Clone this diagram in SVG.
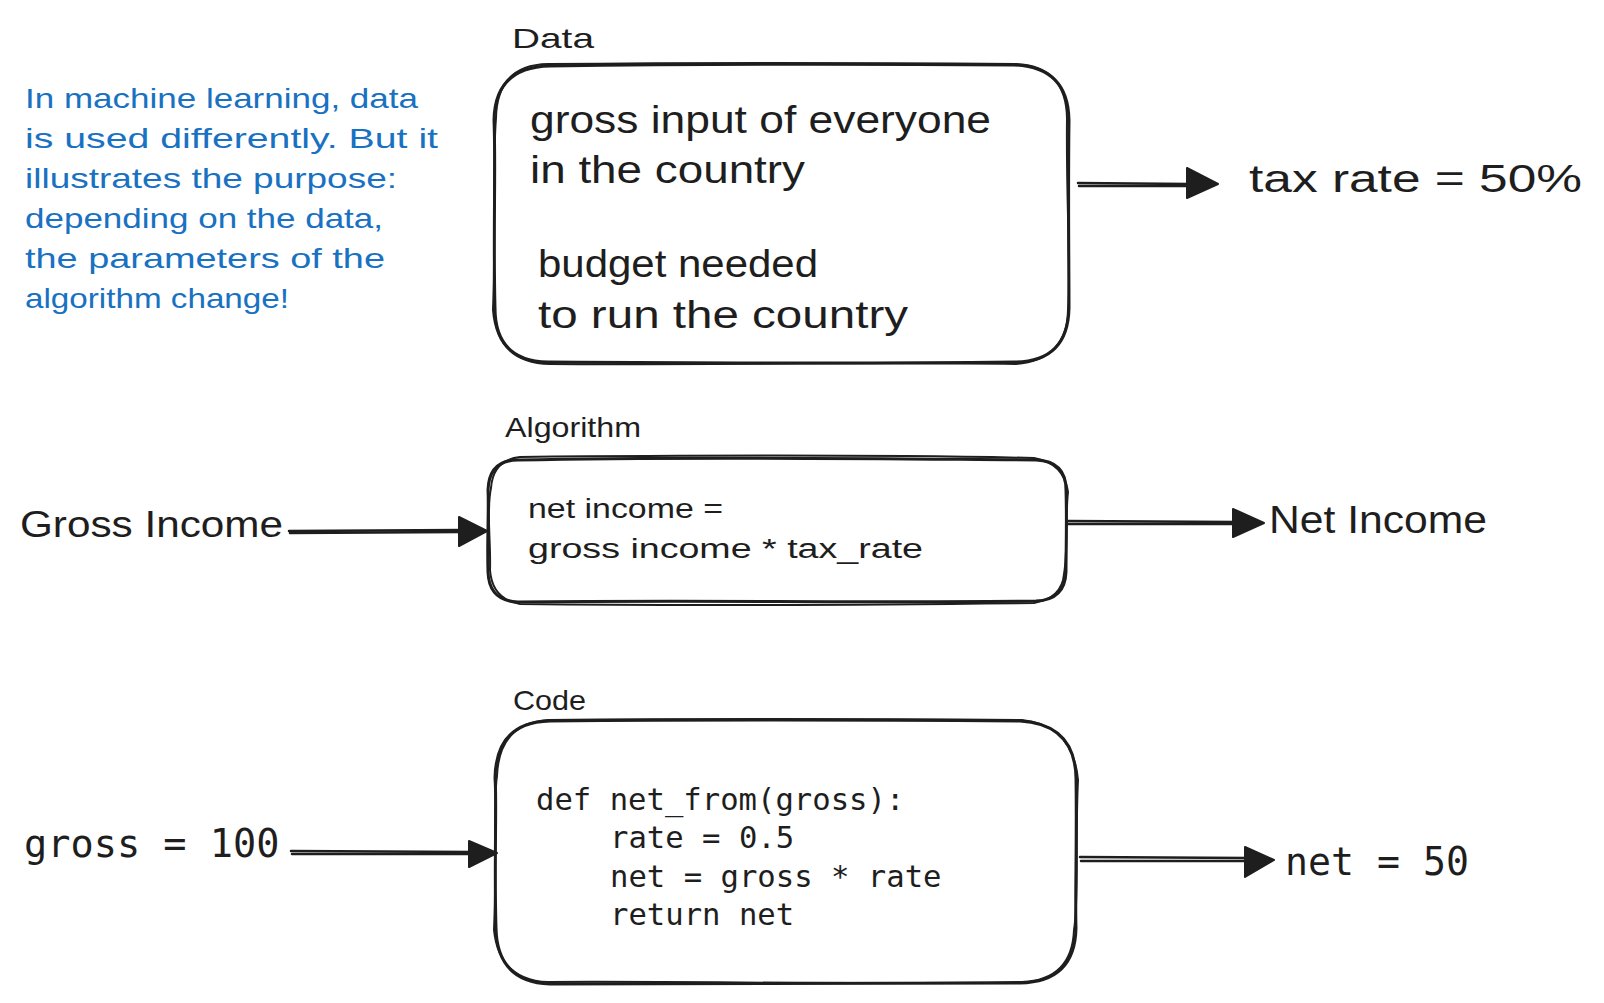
<svg xmlns="http://www.w3.org/2000/svg" width="1604" height="1003" viewBox="0 0 1604 1003">
<style>
.box{fill:none;stroke:#1e1e1e;stroke-width:3;stroke-linecap:round;stroke-linejoin:round}
.box2{fill:none;stroke:#1e1e1e;stroke-width:2;stroke-linecap:round;stroke-linejoin:round}
.hand{font-family:"Liberation Sans","Noto Sans",sans-serif;fill:#1e1e1e}
.note{font-family:"Liberation Sans","Noto Sans",sans-serif;fill:#1971c2;font-size:28px}
.mono{font-family:"DejaVu Sans Mono","Liberation Mono",monospace;fill:#1e1e1e}
.line{fill:none;stroke:#1e1e1e;stroke-width:2.5;stroke-linecap:round}
.head{fill:#1e1e1e;stroke:#1e1e1e;stroke-width:2;stroke-linejoin:round}
</style>
<rect width="1604" height="1003" fill="#ffffff"/>

<g id="note">
<text class="note" x="25" y="108" textLength="393" lengthAdjust="spacingAndGlyphs">In machine learning, data</text>
<text class="note" x="25" y="148" textLength="413" lengthAdjust="spacingAndGlyphs">is used differently. But it</text>
<text class="note" x="25" y="188" textLength="372" lengthAdjust="spacingAndGlyphs">illustrates the purpose:</text>
<text class="note" x="25" y="228" textLength="358" lengthAdjust="spacingAndGlyphs">depending on the data,</text>
<text class="note" x="25" y="268" textLength="360" lengthAdjust="spacingAndGlyphs">the parameters of the</text>
<text class="note" x="25" y="308" textLength="264" lengthAdjust="spacingAndGlyphs">algorithm change!</text>
</g>

<g id="node-data">
<text class="hand" x="512" y="48" font-size="28" textLength="82" lengthAdjust="spacingAndGlyphs">Data</text>
<path class="box" d="M550,66 C760,63 900,64 1014,65 Q1068,67 1069,120 C1068,200 1069,260 1069,308 Q1068,362 1014,362 C850,364 700,363 548,362 Q495,361 495,308 C493,230 496,170 494,120 Q495,67 550,66 Z"/>
<path class="box2" d="M548,64 C740,62 900,63 1016,64 Q1066,66 1067,118 C1066,200 1071,262 1068,310 Q1067,360 1016,364 C860,362 700,365 550,364 Q497,363 493,310 C496,230 492,170 496,118 Q497,65 548,64 Z"/>
<text class="hand" x="530" y="133" font-size="38" textLength="461" lengthAdjust="spacingAndGlyphs">gross input of everyone</text>
<text class="hand" x="530" y="183" font-size="38" textLength="275" lengthAdjust="spacingAndGlyphs">in the country</text>
<text class="hand" x="538" y="277" font-size="38" textLength="280" lengthAdjust="spacingAndGlyphs">budget needed</text>
<text class="hand" x="538" y="328" font-size="38" textLength="370" lengthAdjust="spacingAndGlyphs">to run the country</text>
</g>

<g id="node-taxrate">
<text class="hand" x="1249" y="192" font-size="38" textLength="333" lengthAdjust="spacingAndGlyphs">tax rate = 50%</text>
</g>

<g id="node-algorithm">
<text class="hand" x="505" y="437" font-size="28" textLength="136" lengthAdjust="spacingAndGlyphs">Algorithm</text>
<path class="box" d="M518,460 C700,456 900,459 1036,460 Q1066,461 1066,490 C1067,520 1066,550 1066,572 Q1065,600 1036,601 C850,603 700,600 518,602 Q489,601 488,572 C487,540 489,510 488,490 Q489,460 518,460 Z"/>
<path class="box2" d="M520,457 C720,455 900,455 1034,458 Q1064,463 1068,492 C1065,520 1068,552 1064,574 Q1062,598 1034,603 C860,605 700,606 520,604 Q492,599 490,570 C491,540 486,510 491,488 Q493,460 520,457 Z"/>
<text class="hand" x="528" y="518" font-size="27" textLength="195" lengthAdjust="spacingAndGlyphs">net income =</text>
<text class="hand" x="528" y="558" font-size="27" textLength="395" lengthAdjust="spacingAndGlyphs">gross income * tax_rate</text>
</g>

<g id="node-gross-income">
<text class="hand" x="20" y="537" font-size="36" textLength="263" lengthAdjust="spacingAndGlyphs">Gross Income</text>
</g>

<g id="node-net-income">
<text class="hand" x="1269" y="533" font-size="38" textLength="218" lengthAdjust="spacingAndGlyphs">Net Income</text>
</g>

<g id="node-code">
<text class="hand" x="513" y="710" font-size="28" textLength="73" lengthAdjust="spacingAndGlyphs">Code</text>
<path class="box" d="M550,721 C760,719 900,720 1020,721 Q1075,724 1076,778 C1077,840 1075,900 1076,928 Q1075,982 1020,983 C850,984 700,983 550,984 Q497,982 496,928 C494,860 497,800 495,778 Q496,722 550,721 Z"/>
<path class="box2" d="M548,720 C750,718 900,719 1022,720 Q1073,725 1078,780 C1075,840 1079,900 1074,930 Q1072,980 1022,982 C860,985 700,981 548,982 Q499,980 494,930 C497,860 493,800 497,776 Q499,723 548,720 Z"/>
<text class="mono" x="536" y="810" font-size="30.6">def net_from(gross):</text>
<text class="mono" x="610" y="848" font-size="30.6">rate = 0.5</text>
<text class="mono" x="610" y="887" font-size="30.6">net = gross * rate</text>
<text class="mono" x="610" y="925" font-size="30.6">return net</text>
</g>

<g id="node-gross">
<text class="mono" x="24" y="857" font-size="38.6">gross = 100</text>
</g>

<g id="node-net">
<text class="mono" x="1285" y="875" font-size="38.2">net = 50</text>
</g>

<g id="connectors">
<path class="line" d="M1078,183 L1190,184"/>
<path class="line" d="M1079,186 L1189,186" stroke-width="1.5"/>
<polygon class="head" points="1187,168 1218,184 1187,198"/>

<path class="line" d="M289,531 L462,530"/>
<path class="line" d="M290,533 L461,532" stroke-width="1.5"/>
<polygon class="head" points="459,517 487,531 459,546"/>

<path class="line" d="M1068,521 L1236,522"/>
<path class="line" d="M1068,524 L1235,524" stroke-width="1.5"/>
<polygon class="head" points="1233,509 1264,523 1233,537"/>

<path class="line" d="M291,851 L472,852"/>
<path class="line" d="M292,854 L471,854" stroke-width="1.5"/>
<polygon class="head" points="469,841 497,853 469,867"/>

<path class="line" d="M1080,857 L1248,858"/>
<path class="line" d="M1081,861 L1247,861" stroke-width="1.5"/>
<polygon class="head" points="1245,847 1274,860 1245,877"/>
</g>
</svg>
